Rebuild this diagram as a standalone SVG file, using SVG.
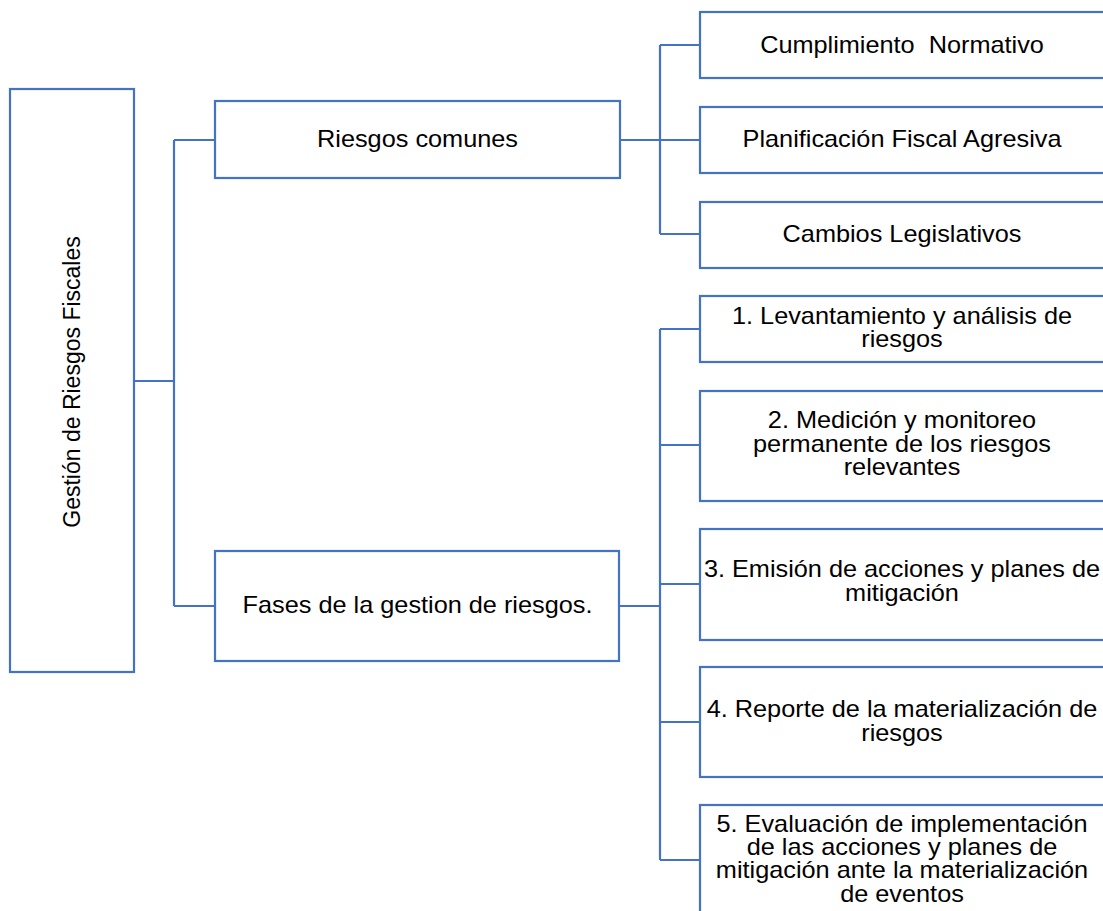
<svg xmlns="http://www.w3.org/2000/svg" width="1103" height="911" viewBox="0 0 1103 911">
<style>
.box{fill:#fff;stroke:#4472C4;stroke-width:2.2}
.con{fill:none;stroke:#4472C4;stroke-width:2.2}
.t{font-family:"Liberation Sans",Arial,sans-serif;font-size:23px;fill:#000;text-anchor:middle;white-space:pre}
</style>
<rect width="1103" height="911" fill="#fff"/>
<g id="connectors">
<path class="con" d="M134 381H174M174 140V606M174 140H215M174 606H215"/>
<path class="con" d="M620 140H660M660 45V234M660 45H700M660 140H700M660 234H700"/>
<path class="con" d="M619 606H660M660 329V860M660 329H700M660 445H700M660 584H700M660 722H700M660 860H700"/>
</g>
<g id="root">
<rect class="box" x="10" y="89" width="124" height="583"/>
<text class="t" transform="translate(80 382) rotate(-90)" x="0" y="0">Gestión de Riesgos Fiscales</text>
</g>
<g id="riesgos-comunes">
<rect class="box" x="215" y="101" width="405" height="77"/>
<text class="t" transform="translate(417.5 0) scale(1.1 1)" x="0" y="147">Riesgos comunes</text>
</g>
<g id="fases">
<rect class="box" x="215" y="551" width="404" height="110"/>
<text class="t" transform="translate(417.5 0) scale(1.1 1)" x="0" y="613">Fases de la gestion de riesgos.</text>
</g>
<g id="cumplimiento">
<rect class="box" x="700" y="12" width="420" height="66"/>
<text class="t" transform="translate(902 0) scale(1.1 1)" x="0" y="53">Cumplimiento  Normativo</text>
</g>
<g id="planificacion">
<rect class="box" x="700" y="107" width="420" height="66"/>
<text class="t" transform="translate(902 0) scale(1.1 1)" x="0" y="147">Planificación Fiscal Agresiva</text>
</g>
<g id="cambios">
<rect class="box" x="700" y="202" width="420" height="66"/>
<text class="t" transform="translate(902 0) scale(1.1 1)" x="0" y="242">Cambios Legislativos</text>
</g>
<g id="fase1">
<rect class="box" x="700" y="296" width="420" height="66"/>
<text class="t" transform="translate(902 0) scale(1.1 1)"><tspan x="0" y="324">1. Levantamiento y análisis de</tspan><tspan x="0" y="347">riesgos</tspan></text>
</g>
<g id="fase2">
<rect class="box" x="700" y="391" width="420" height="110"/>
<text class="t" transform="translate(902 0) scale(1.1 1)"><tspan x="0" y="428">2. Medición y monitoreo</tspan><tspan x="0" y="452">permanente de los riesgos</tspan><tspan x="0" y="475">relevantes</tspan></text>
</g>
<g id="fase3">
<rect class="box" x="700" y="529" width="420" height="111"/>
<text class="t" transform="translate(902 0) scale(1.1 1)"><tspan x="0" y="577">3. Emisión de acciones y planes de</tspan><tspan x="0" y="601">mitigación</tspan></text>
</g>
<g id="fase4">
<rect class="box" x="700" y="667" width="420" height="110"/>
<text class="t" transform="translate(902 0) scale(1.1 1)"><tspan x="0" y="717">4. Reporte de la materialización de</tspan><tspan x="0" y="741">riesgos</tspan></text>
</g>
<g id="fase5">
<rect class="box" x="700" y="805" width="420" height="130"/>
<text class="t" transform="translate(902 0) scale(1.1 1)"><tspan x="0" y="832">5. Evaluación de implementación</tspan><tspan x="0" y="855">de las acciones y planes de</tspan><tspan x="0" y="878">mitigación ante la materialización</tspan><tspan x="0" y="902">de eventos</tspan></text>
</g>
</svg>
